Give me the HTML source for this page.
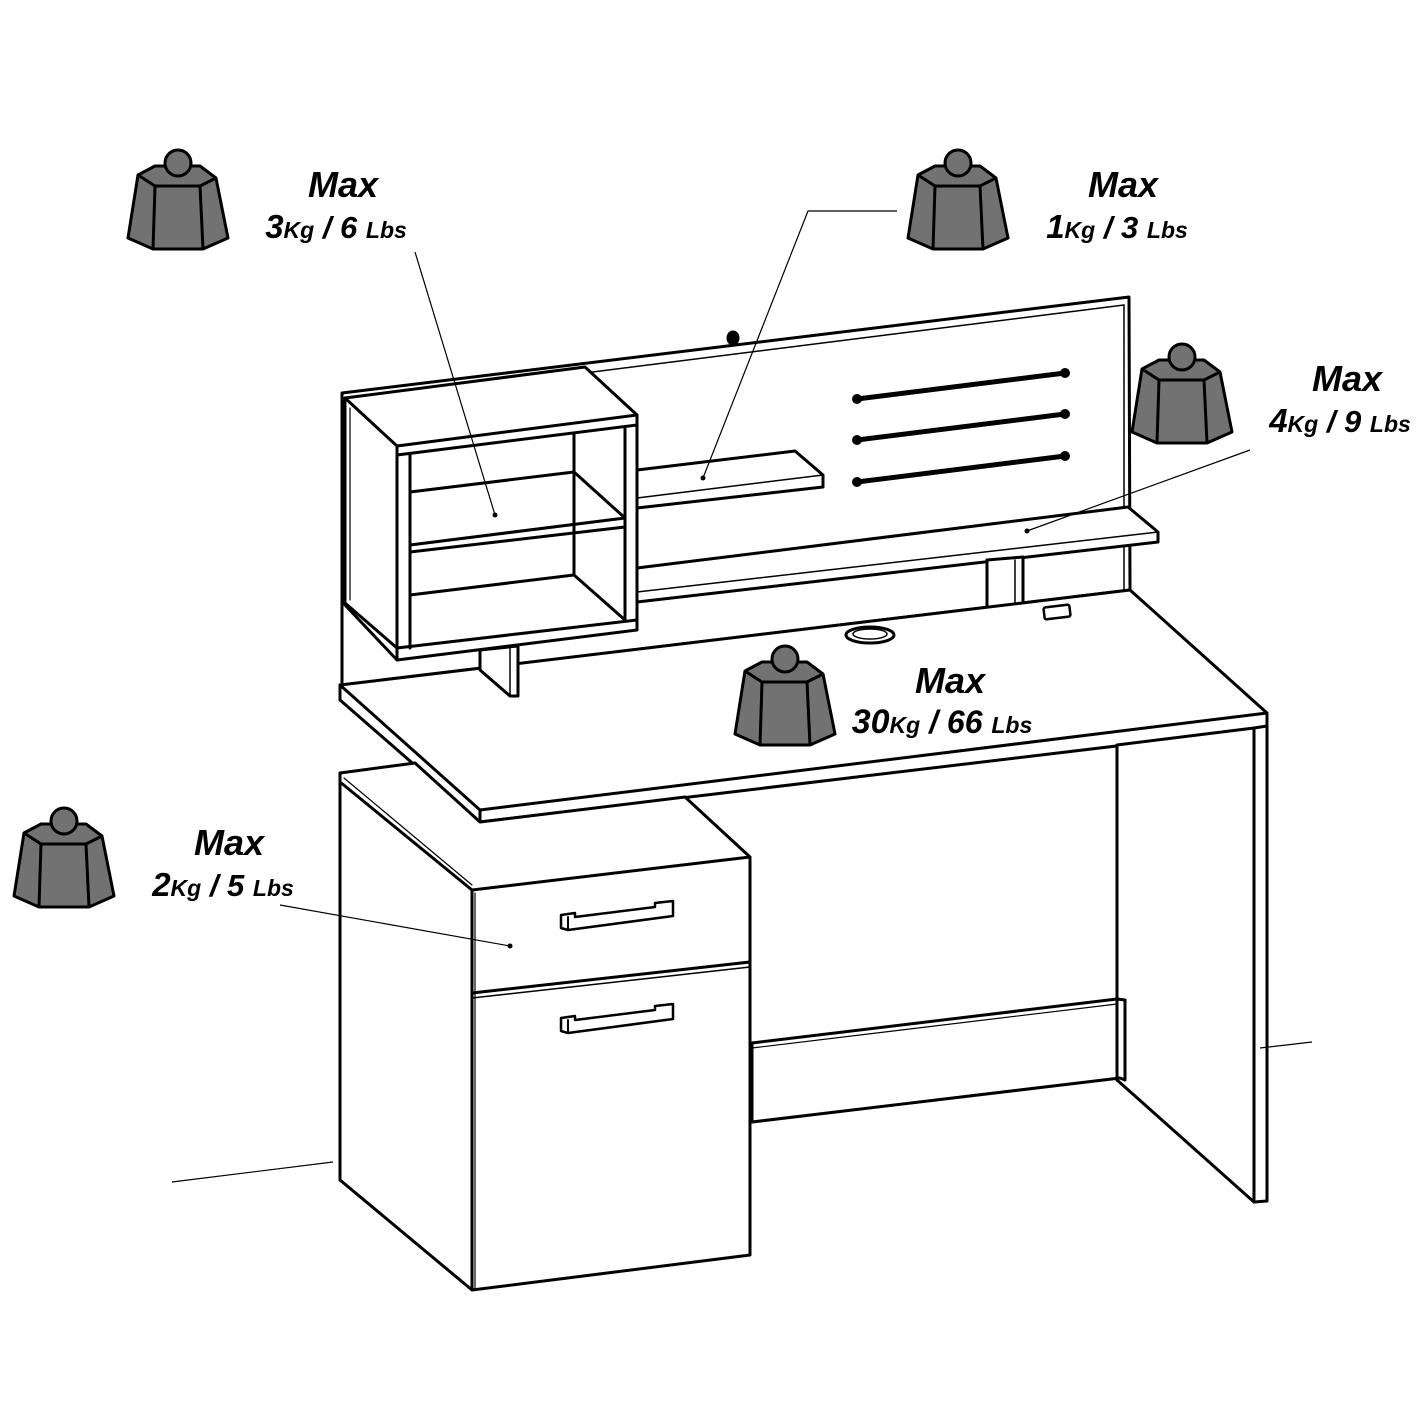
<!DOCTYPE html>
<html><head><meta charset="utf-8"><style>
html,body{margin:0;padding:0;background:#fff}
svg{display:block}
text{font-family:"Liberation Sans",Arial,sans-serif;font-weight:bold;font-style:italic;fill:#000}
</style></head><body>
<svg width="1422" height="1422" viewBox="0 0 1422 1422" xmlns="http://www.w3.org/2000/svg">
<defs>
<g id="w" stroke="#000" stroke-width="3" stroke-linejoin="round">
<polygon points="-40,12 -23,3 22,3 38,15 50,75 25,86 -25,86 -50,75" fill="#727272"/>
<polyline points="-40,12 -23,23 22,23 38,15" fill="none"/>
<line x1="-23" y1="23" x2="-25" y2="86"/>
<line x1="22" y1="23" x2="25" y2="86"/>
<circle cx="0" cy="0" r="13" fill="#727272"/>
</g>
</defs>

<g fill="none" stroke="#000" stroke-width="3" stroke-linejoin="round" stroke-linecap="round">
<!-- backboard -->
<polygon points="342,393 1129,297 1130,590 342,685" fill="#fff"/>
<line x1="347" y1="403" x2="1124" y2="305" stroke-width="1.5"/>
<line x1="1124" y1="305" x2="1124" y2="590" stroke-width="1.5"/>
<ellipse cx="733" cy="338" rx="5" ry="6" fill="#000"/>
<g stroke-width="5">
<line x1="857" y1="399" x2="1065" y2="373"/>
<line x1="857" y1="440" x2="1065" y2="414"/>
<line x1="857" y1="482" x2="1065" y2="456"/>
</g>
<g fill="#000" stroke="none">
<circle cx="857" cy="399" r="5"/><circle cx="1065" cy="373" r="5"/>
<circle cx="857" cy="440" r="5"/><circle cx="1065" cy="414" r="5"/>
<circle cx="857" cy="482" r="5"/><circle cx="1065" cy="456" r="5"/>
</g>
<polygon points="637,470 795,451 823,475 823,487 637,508" fill="#fff"/>
<line x1="637" y1="498" x2="823" y2="475" stroke-width="1.5"/>
<polygon points="637,568 1128,507 1158,532 1158,542 637,602" fill="#fff"/>
<line x1="637" y1="592" x2="1158" y2="532" stroke-width="1.5"/>
<polygon points="987,560 1023,557 1023,633 1015,633 987,608" fill="#fff"/>
<line x1="1015" y1="560" x2="1015" y2="633" stroke-width="1.5"/>
<!-- desktop -->
<polygon points="340,685 1130,590 1267,713 1267,728 480,822 340,700" fill="#fff"/>
<polyline points="340,685 480,810 1267,713"/>
<line x1="345" y1="689" x2="480" y2="810" stroke-width="1.2"/>
<line x1="480" y1="810" x2="480" y2="822"/>
<ellipse cx="870" cy="635" rx="24" ry="8" stroke-width="3"/>
<ellipse cx="870" cy="634" rx="17" ry="5" stroke-width="1.5"/>
<rect x="1044" y="606" width="26" height="12" rx="2" stroke-width="2.5" transform="rotate(-7 1057 612)"/>
<polygon points="480,650 518,646 518,696 510,696 480,670" fill="#fff"/>
<line x1="510" y1="648" x2="510" y2="696" stroke-width="1.5"/>
<!-- cube -->
<polygon points="345,398 585,367 637,415 637,630 397,660 345,605" fill="#fff"/>
<polyline points="345,398 397,446 637,415"/>
<polyline points="397,455 637,425"/>
<line x1="350" y1="403" x2="397" y2="446" stroke-width="1.2"/>
<line x1="397" y1="446" x2="397" y2="660"/>
<line x1="410" y1="455" x2="410" y2="648"/>
<line x1="625" y1="428" x2="625" y2="620"/>
<line x1="574" y1="434" x2="574" y2="575"/>
<polyline points="410,492 574,472 625,518"/>
<polyline points="410,545 625,518 625,527 410,552"/>
<polyline points="410,595 574,575 625,620"/>
<polyline points="397,648 637,620"/>
<line x1="345" y1="603" x2="397" y2="648"/>
<line x1="350" y1="408" x2="350" y2="600" stroke-width="1.2"/>
<polygon points="540,815 600,808 600,858 590,858 540,820" fill="#fff"/>
<line x1="590" y1="810" x2="590" y2="858" stroke-width="1.5"/>
<!-- right leg -->
<polygon points="1117,745 1254,728 1254,1202 1117,1080" fill="#fff"/>
<polygon points="1254,728 1267,726 1267,1201 1254,1202" fill="#fff"/>
<polygon points="752,1043 1117,999 1125,1000 1125,1080 1120,1078 752,1122" fill="#fff"/>
<line x1="752" y1="1048" x2="1117" y2="1004" stroke-width="1.2"/>
<line x1="1117" y1="999" x2="1117" y2="1080"/>
<!-- pedestal -->
<polygon points="340,773 415,763 480,822 685,797 750,857 750,1255 472,1290 340,1180" fill="#fff"/>
<polyline points="340,773 340,782 472,890 750,857"/>
<line x1="344" y1="778" x2="472" y2="885" stroke-width="1.2"/>
<line x1="340" y1="782" x2="340" y2="1180"/>
<line x1="472" y1="890" x2="472" y2="1290"/>
<line x1="475" y1="893" x2="475" y2="1288" stroke-width="1.2"/>
<polyline points="472,993 750,962"/>
<polyline points="472,998 750,967" stroke-width="1.5"/>
<polygon points="561,915 575,913 575,917 655,907 655,903 673,901 673,916 568,930 561,928" fill="#fff" stroke-width="2.5"/>
<line x1="568" y1="917" x2="568" y2="930" stroke-width="2"/>
<polygon points="561,1018 575,1016 575,1020 655,1010 655,1006 673,1004 673,1019 568,1033 561,1031" fill="#fff" stroke-width="2.5"/>
<line x1="568" y1="1020" x2="568" y2="1033" stroke-width="2"/>
</g>

<!-- leader lines -->
<g stroke="#000" stroke-width="1.2" fill="none">
<line x1="415" y1="252" x2="495" y2="515"/>
<polyline points="897,211 808,211 703,478"/>
<line x1="1250" y1="450" x2="1027" y2="531"/>
<line x1="280" y1="905" x2="510" y2="946"/>
<line x1="172" y1="1182" x2="333" y2="1162"/>
<line x1="1260" y1="1048" x2="1312" y2="1042"/>
</g>
<g fill="#000">
<circle cx="495" cy="515" r="2.5"/><circle cx="703" cy="478" r="2.5"/>
<circle cx="1027" cy="531" r="2.5"/><circle cx="510" cy="946" r="2.5"/>
</g>

<!-- weights -->
<use href="#w" x="178" y="163"/>
<use href="#w" x="958" y="163"/>
<use href="#w" x="1182" y="357"/>
<use href="#w" x="785" y="659"/>
<use href="#w" x="64" y="821"/>

<!-- labels -->
<text x="343" y="197" font-size="36" text-anchor="middle">Max</text>
<text x="336" y="238" text-anchor="middle"><tspan font-size="33">3</tspan><tspan font-size="23">Kg</tspan><tspan font-size="31"> / 6 </tspan><tspan font-size="23">Lbs</tspan></text>
<text x="1123" y="197" font-size="36" text-anchor="middle">Max</text>
<text x="1117" y="238" text-anchor="middle"><tspan font-size="33">1</tspan><tspan font-size="23">Kg</tspan><tspan font-size="31"> / 3 </tspan><tspan font-size="23">Lbs</tspan></text>
<text x="1347" y="391" font-size="36" text-anchor="middle">Max</text>
<text x="1340" y="432" text-anchor="middle"><tspan font-size="33">4</tspan><tspan font-size="23">Kg</tspan><tspan font-size="31"> / 9 </tspan><tspan font-size="23">Lbs</tspan></text>
<text x="950" y="693" font-size="36" text-anchor="middle">Max</text>
<text x="942" y="733" text-anchor="middle"><tspan font-size="34">30</tspan><tspan font-size="23">Kg</tspan><tspan font-size="32"> / 66 </tspan><tspan font-size="23">Lbs</tspan></text>
<text x="229" y="855" font-size="36" text-anchor="middle">Max</text>
<text x="223" y="896" text-anchor="middle"><tspan font-size="33">2</tspan><tspan font-size="23">Kg</tspan><tspan font-size="31"> / 5 </tspan><tspan font-size="23">Lbs</tspan></text>
</svg>
</body></html>
